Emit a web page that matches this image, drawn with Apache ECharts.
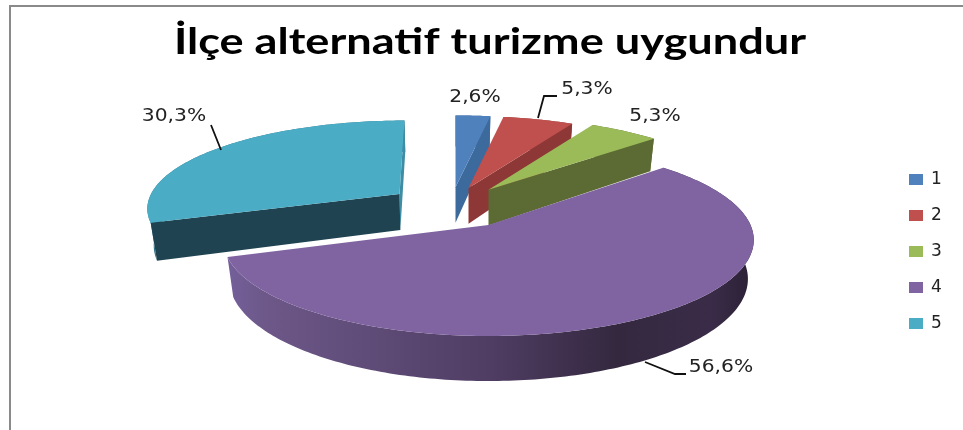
<!DOCTYPE html>
<html>
<head>
<meta charset="utf-8">
<style>
  html,body{margin:0;padding:0;background:#fff}
  #main{width:963px;height:430px}
</style>
</head>
<body>
<div id="main"></div>
<script src="https://cdn.jsdelivr.net/npm/echarts@6/dist/echarts.min.js"></script>
<script>
  // data
  var categories = ['1', '2', '3', '4', '5'];
  var values = [2.6, 5.3, 5.3, 56.6, 30.3];
  var titleText = 'İlçe alternatif turizme uygundur';

  // styles per slice
  var colors = ['#4F81BD', '#C0504D', '#9BBB59', '#8064A2', '#4BACC6'];
  var endWall = ['#3C6A9D', '#8D3836', '#5C6B33', '#5A4672', '#3D8DA5'];
  var startWall = ['#3C6A9D', '#8D3836', '#5C6B33', '#5A4672', '#1F4350'];
  var arcWall = ['#3C6A9D', '#8D3836', '#5C6B33', null, '#2F7488'];
  // how far each slice is pulled out: sideways and back in pie radii, then a plain px shift
  var explode = [[0, 0.43, -33], [0, 0.42, -20], [0, 0.4, 0], [0, 0, 0], [-0.157, 0.349, -50]];
  var drawOrder = [0, 1, 2, 4, 3];
  var labelPos = [[475, 98], [587, 90], [655, 117], [721, 368], [174, 117]];
  var leaders = [null, [[538, 118], [544, 96], [557, 96]], null, [[645, 362], [675, 374], [686, 374]], [[221, 150], [211, 125]]];

  // pie projection: centre, radii, perspective, thickness
  var cx = 488.5, cy = 225, rx = 262, ry = 93.7, persp = 0.156, depth = 38, shrink = 0.022;

  function project(u, v, z, dx) {
    var w = 1 + persp * v;
    return [cx + dx + rx * u / w * (1 - shrink * z), cy - ry * v / w + z * depth / w];
  }

  var total = values.reduce(function (a, b) { return a + b; }, 0);
  var angles = [];
  var acc = 0;
  values.forEach(function (d) {
    angles.push([acc / total * 360, (acc + d) / total * 360]);
    acc += d;
  });

  function rim(i, a, z) {
    var r = a * Math.PI / 180;
    return project(Math.sin(r) + explode[i][0], Math.cos(r) + explode[i][1], z, explode[i][2]);
  }
  function apex(i, z) {
    return project(explode[i][0], explode[i][1], z, explode[i][2]);
  }
  function arc(i, z) {
    var pts = [];
    var a0 = angles[i][0], a1 = angles[i][1];
    var n = Math.ceil(a1 - a0);
    for (var k = 0; k <= n; k++) {
      pts.push(rim(i, a0 + (a1 - a0) * k / n, z));
    }
    return pts;
  }
  function poly(points, fill, z2) {
    return { type: 'polygon', z2: z2, shape: { points: points }, style: { fill: fill } };
  }

  function makeRender(i) {
    return function () {
      var a0 = angles[i][0], a1 = angles[i][1];
      var kids = [];
      var top = arc(i, 0), bottom = arc(i, 1);
      // outer wall
      var wallFill = arcWall[i] || new echarts.graphic.LinearGradient(0, 0, 1, 0, [
        { offset: 0, color: '#74609A' },
        { offset: 0.07, color: '#6D5889' },
        { offset: 0.5, color: '#4F3D63' },
        { offset: 0.74, color: '#34283F' },
        { offset: 0.92, color: '#3A2C48' },
        { offset: 1, color: '#2A2035' }
      ]);
      kids.push(poly(top.concat(bottom.slice().reverse()), wallFill, 1));
      // cut faces, only those turned to the viewer
      if (Math.sin(a1 * Math.PI / 180) > -1e-6) {
        kids.push(poly([apex(i, 0), rim(i, a1, 0), rim(i, a1, 1), apex(i, 1)], endWall[i], 2));
      }
      if (Math.sin(a0 * Math.PI / 180) < -1e-6) {
        kids.push(poly([apex(i, 0), rim(i, a0, 0), rim(i, a0, 1), apex(i, 1)], startWall[i], 2));
      }
      // top face
      kids.push(poly([apex(i, 0)].concat(top), colors[i], 3));
      // leader + label
      if (leaders[i]) {
        kids.push({ type: 'polyline', z2: 4, shape: { points: leaders[i] }, style: { stroke: '#111', lineWidth: 1.8, fill: null } });
      }
      kids.push({
        type: 'text', z2: 5, x: labelPos[i][0], y: labelPos[i][1], scaleX: 1.19,
        style: {
          text: values[i].toFixed(1).replace('.', ',') + '%',
          font: '17px "DejaVu Sans"', fill: '#222', align: 'center', verticalAlign: 'middle'
        }
      });
      return { type: 'group', children: kids };
    };
  }

  var myChart = echarts.init(document.getElementById('main'));
  var option = {
    animation: false,
    backgroundColor: '#fff',
    legend: {
      orient: 'vertical',
      left: 904, top: 166,
      itemWidth: 14, itemHeight: 11, itemGap: 19,
      icon: 'rect',
      data: categories,
      textStyle: { fontFamily: 'DejaVu Sans', fontSize: 17, color: '#222', lineHeight: 16, padding: [0, 0, 0, 3] }
    },
    graphic: [{
      type: 'polyline', silent: true,
      shape: { points: [[10, 430], [10, 6], [963, 6]] },
      style: { stroke: '#8A8A8A', lineWidth: 2, fill: null }
    }, {
      type: 'text', silent: true, x: 490, y: 42, scaleX: 1.22,
      style: {
        text: titleText, font: 'bold 37px Lato', fill: '#000',
        align: 'center', verticalAlign: 'middle'
      }
    }],
    series: drawOrder.map(function (i) {
      return {
        type: 'custom',
        name: categories[i],
        coordinateSystem: 'none',
        silent: true,
        itemStyle: { color: colors[i] },
        data: [[values[i]]],
        renderItem: makeRender(i)
      };
    })
  };
  myChart.setOption(option);
</script>
</body>
</html>
